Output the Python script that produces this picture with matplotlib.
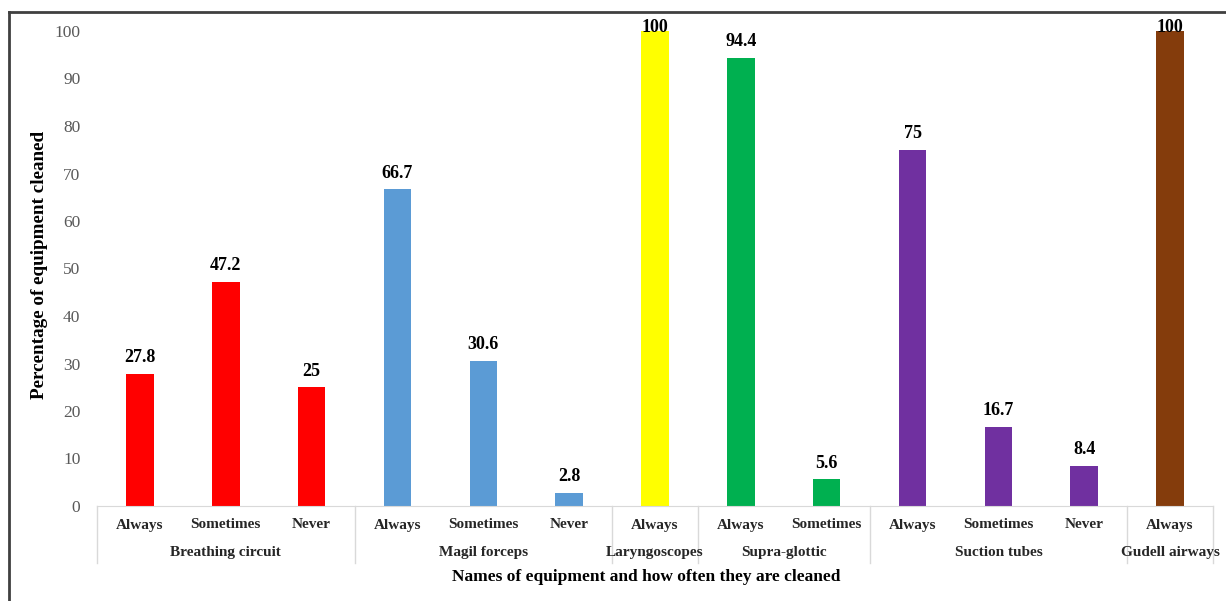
import matplotlib.pyplot as plt
from matplotlib.lines import Line2D

# Cleaning frequency per equipment type
freq_labels = ["Always", "Sometimes", "Never",
               "Always", "Sometimes", "Never",
               "Always",
               "Always", "Sometimes",
               "Always", "Sometimes", "Never",
               "Always"]
values = [27.8, 47.2, 25, 66.7, 30.6, 2.8, 100, 94.4, 5.6, 75, 16.7, 8.4, 100]
value_text = ["27.8", "47.2", "25", "66.7", "30.6", "2.8", "100", "94.4", "5.6",
              "75", "16.7", "8.4", "100"]
groups = ["Breathing circuit", "Magil forceps", "Laryngoscopes", "Supra-glottic",
          "Suction tubes", "Gudell airways"]
group_sizes = [3, 3, 1, 2, 3, 1]
group_colors = ["#FF0000", "#5B9BD5", "#FFFF00", "#00B050", "#7030A0", "#843C0C"]

plt.rcParams['font.family'] = ['Liberation Serif', 'DejaVu Serif']

W, H = 1226, 601
fig = plt.figure(figsize=(W / 100, H / 100), dpi=100)
ax = fig.add_axes([97 / W, (H - 506) / H, (1213 - 97) / W, (506 - 31) / H])

bar_colors = []
for c, n in zip(group_colors, group_sizes):
    bar_colors += [c] * n

x = list(range(len(values)))
bars = ax.bar(x, values, width=0.32, color=bar_colors)

for xi, v, t in zip(x, values, value_text):
    # labels on full-height bars sit on the bar top instead of above it
    dy = -3.5 if v >= 100 else 5.5
    ax.annotate(t, (xi, v), xytext=(0, dy), textcoords='offset points',
                ha='center', va='bottom', fontsize=13, fontweight='bold',
                color='black', annotation_clip=False)

ax.set_xlim(-0.5, len(values) - 0.5)
ax.set_ylim(0, 100)
ax.set_yticks(range(0, 101, 10))
ax.tick_params(axis='y', length=0, pad=12, labelsize=12.5, labelcolor='#595959')
ax.set_xticks([])
for side in ['top', 'right', 'left']:
    ax.spines[side].set_visible(False)
ax.spines['bottom'].set_color('#D9D9D9')

trans = ax.get_xaxis_transform()
# frequency labels under each bar
for xi, lab in zip(x, freq_labels):
    ax.text(xi, -0.04, lab, transform=trans, ha='center', va='center',
            fontsize=11, fontweight='bold', color='#262626')

# group labels and separators
start = 0
sep_depth = -(563 - 506) / (506 - 31)
ax.plot([-0.5, -0.5], [0, sep_depth], transform=trans, color='#D9D9D9',
        lw=1, clip_on=False)
for g, n in zip(groups, group_sizes):
    center = start + (n - 1) / 2
    ax.text(center, -0.097, g, transform=trans, ha='center', va='center',
            fontsize=11, fontweight='bold', color='#262626')
    end = start + n - 0.5
    ax.plot([end, end], [0, sep_depth], transform=trans, color='#D9D9D9',
            lw=1, clip_on=False)
    start += n

fig.text((452 + 840) / 2 / W, 1 - 577 / H,
         "Names of equipment and how often they are cleaned",
         ha='center', va='center', fontsize=12.5, fontweight='bold')
fig.text(40 / W, 1 - 265 / H, "Percentage of equipment cleaned",
         rotation=90, ha='center', va='center', fontsize=13.8, fontweight='bold')

# frame lines around the chart
fig.add_artist(Line2D([9 / W, 9 / W], [0, 1 - 12 / H], color='#404040', lw=2))
fig.add_artist(Line2D([9 / W, 1], [1 - 12 / H, 1 - 12 / H], color='#404040', lw=2))

fig.savefig("out.png", dpi=100)
